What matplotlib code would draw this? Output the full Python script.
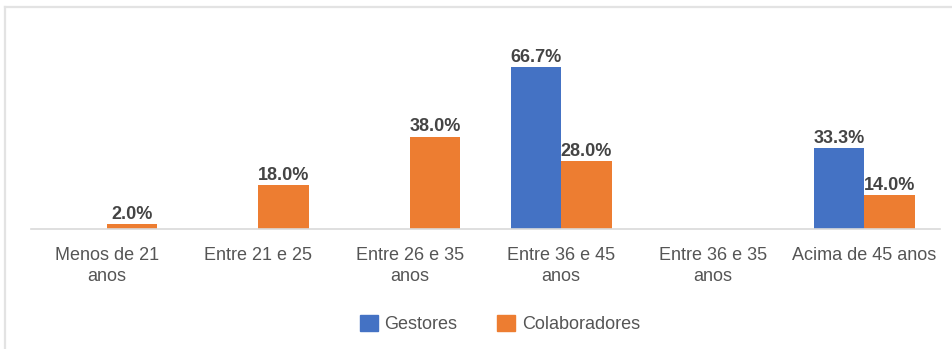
import matplotlib
matplotlib.use("Agg")
import matplotlib.pyplot as plt
from matplotlib.lines import Line2D
from matplotlib.patches import Patch
import numpy as np

# Faixa etária: gestores x colaboradores (%)
categories = [
    "Menos de 21\nanos",
    "Entre 21 e 25",
    "Entre 26 e 35\nanos",
    "Entre 36 e 45\nanos",
    "Entre 36 e 35\nanos",
    "Acima de 45 anos",
]
gestores = [np.nan, np.nan, np.nan, 66.7, np.nan, 33.3]
colaboradores = [2.0, 18.0, 38.0, 28.0, np.nan, 14.0]
series_labels = ["Gestores", "Colaboradores"]

BLUE = "#4472C4"
ORANGE = "#ED7D31"
TEXT = "#555555"
VALUE_TEXT = "#444444"

plt.rcParams["font.family"] = ["Liberation Sans", "DejaVu Sans"]

fig = plt.figure(figsize=(9.53, 3.49), dpi=100)
W, H = 953, 349
ax = fig.add_axes([31 / W, (H - 229) / H, 909 / W, 182 / H])

x = np.arange(len(categories))
bw = 1 / 3

bars_g = ax.bar(x - bw / 2, gestores, bw, color=BLUE, label=series_labels[0])
bars_c = ax.bar(x + bw / 2, colaboradores, bw, color=ORANGE, label=series_labels[1])

for bars, vals in ((bars_g, gestores), (bars_c, colaboradores)):
    for b, v in zip(bars, vals):
        if np.isnan(v):
            continue
        ax.annotate(f"{v:.1f}%", (b.get_x() + b.get_width() / 2, v),
                    xytext=(0, 1), textcoords="offset points",
                    ha="center", va="bottom", fontsize=13, fontweight="bold",
                    color=VALUE_TEXT)

ax.set_xlim(-0.5, len(categories) - 0.5)
ax.set_ylim(0, 75)
ax.set_xticks(x)
ax.set_xticklabels(categories, fontsize=13, color=TEXT, linespacing=1.3)
ax.tick_params(axis="x", length=0, pad=13)
ax.set_yticks([])
for side in ("top", "right", "left"):
    ax.spines[side].set_visible(False)
ax.spines["bottom"].set_color("#d9d9d9")
ax.spines["bottom"].set_linewidth(1.2)

handles = [Patch(facecolor=BLUE, edgecolor=BLUE), Patch(facecolor=ORANGE, edgecolor=ORANGE)]
leg = fig.legend(handles, series_labels, loc="center", bbox_to_anchor=(500 / W, 25 / H),
                 ncol=2, frameon=False, fontsize=13, handlelength=1.0, handleheight=1.0,
                 handletextpad=0.35, columnspacing=2.2)
for t in leg.get_texts():
    t.set_color(TEXT)

# thin frame on the top and left edges
fig.add_artist(Line2D([5 / W, 1], [1 - 7 / H, 1 - 7 / H], color="#e3e3e3", lw=1.6,
                      transform=fig.transFigure))
fig.add_artist(Line2D([5 / W, 5 / W], [0, 1 - 7 / H], color="#e3e3e3", lw=1.6,
                      transform=fig.transFigure))

fig.savefig("out.png", dpi=100)
